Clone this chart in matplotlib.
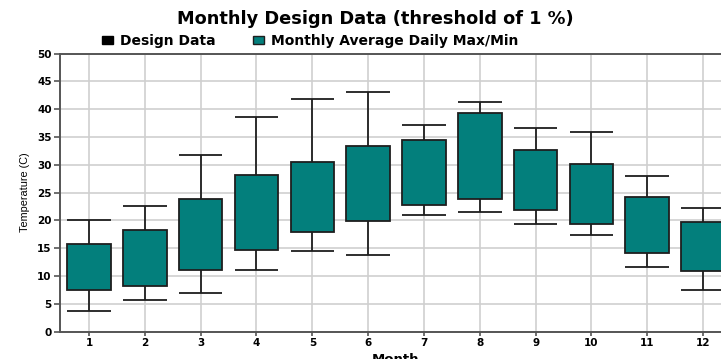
import matplotlib
matplotlib.use('Agg')
import matplotlib.pyplot as plt
from matplotlib.patches import Patch

months = list(range(1, 13))
design_max = [20.0, 22.5, 31.8, 38.5, 41.9, 43.0, 37.2, 41.3, 36.6, 35.8, 27.9, 22.2]
design_min = [3.6, 5.7, 6.9, 11.0, 14.5, 13.8, 21.0, 21.5, 19.3, 17.3, 11.6, 7.5]
avg_max = [15.8, 18.3, 23.9, 28.2, 30.5, 33.4, 34.5, 39.3, 32.7, 30.2, 24.2, 19.7]
avg_min = [7.5, 8.2, 11.0, 14.6, 17.9, 19.8, 22.7, 23.9, 21.8, 19.3, 14.1, 10.9]

teal = '#037f7c'
edge = '#1e1e1e'

plt.rcParams['font.family'] = ['DejaVu Sans']

fig = plt.figure(figsize=(7.21, 3.59), dpi=100)
ax = fig.add_axes([60 / 721, 1 - 331.5 / 359, 671 / 721, 278 / 359])

box_w = 0.78
# whiskers (design data) go behind the boxes
ax.vlines(months, design_min, design_max, color=edge, lw=1.3, zorder=2)
ax.hlines(design_max, [m - box_w / 2 for m in months], [m + box_w / 2 for m in months],
          color=edge, lw=1.3, zorder=2)
ax.hlines(design_min, [m - box_w / 2 for m in months], [m + box_w / 2 for m in months],
          color=edge, lw=1.3, zorder=2)
heights = [hi - lo for hi, lo in zip(avg_max, avg_min)]
ax.bar(months, heights, bottom=avg_min, width=box_w, color=teal,
       edgecolor=edge, linewidth=1.3, zorder=3)

ax.set_xlim(0.48, 12.5)
ax.set_ylim(0, 50)
ax.set_xticks(months)
ax.set_yticks(range(0, 51, 5))
ax.grid(True, color='#cfcfcf', lw=1.2, zorder=0)
ax.set_axisbelow(True)
for lbl in ax.get_xticklabels() + ax.get_yticklabels():
    lbl.set_fontweight('bold')
    lbl.set_fontsize(7.5)
ax.tick_params(axis='both', length=4, width=1.2, color='#555555', pad=2)
ax.tick_params(axis='x', length=3)

for s in ['left', 'bottom', 'top']:
    ax.spines[s].set_color('#555555')
    ax.spines[s].set_linewidth(1.4)
ax.spines['right'].set_visible(False)

ax.set_xlabel('Month', fontsize=9.5, fontweight='bold', labelpad=3)
ax.set_ylabel('Temperature (C)', fontsize=7.8,
              family=['Liberation Sans Narrow', 'Liberation Sans', 'DejaVu Sans'], labelpad=5)

fig.text(375 / 721, 1 - 19 / 359, 'Monthly Design Data (threshold of 1 %)',
         ha='center', va='center', fontsize=12.8, fontweight='bold')

handles = [Patch(facecolor='black', edgecolor='black', label='Design Data'),
           Patch(facecolor=teal, edgecolor=edge, label='Monthly Average Daily Max/Min')]
fig.legend(handles=handles, loc='center left', bbox_to_anchor=(96 / 721, 1 - 41 / 359),
           ncol=2, frameon=False, handlelength=0.8, handleheight=0.5, handletextpad=0.5,
           columnspacing=2.7, borderaxespad=0, prop={'weight': 'bold', 'size': 10})

fig.savefig('out.png', dpi=100)
